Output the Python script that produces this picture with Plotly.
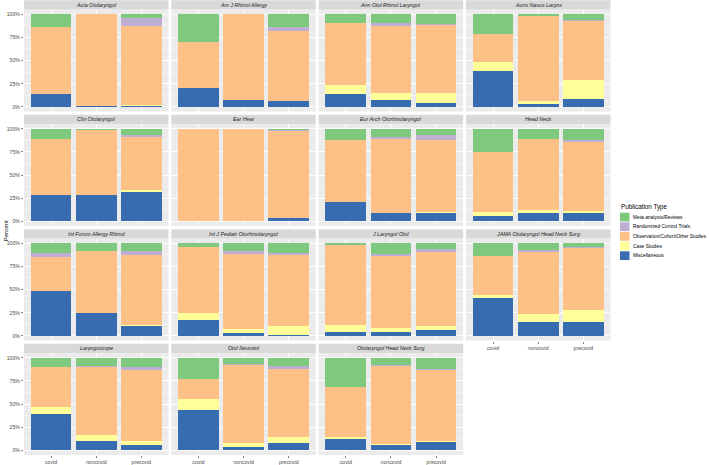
import plotly.graph_objects as go
import numpy as np

journals = ["Acta Otolaryngol", "Am J Rhinol Allergy", "Ann Otol Rhinol Laryngol", "Auris Nasus Larynx",
            "Clin Otolaryngol", "Ear Hear", "Eur Arch Otorhinolaryngol", "Head Neck",
            "Int Forum Allergy Rhinol", "Int J Pediatr Otorhinolaryngol", "J Laryngol Otol",
            "JAMA Otolaryngol Head Neck Surg", "Laryngoscope", "Otol Neurotol", "Otolaryngol Head Neck Surg"]
periods = ["covid", "noncovid", "precovid"]

# percent per journal: [covid, noncovid, precovid]
miscellaneous = [[14.3, 1.0, 1.0], [20.0, 7.2, 6.5], [14.3, 7.9, 4.3], [39.1, 3.6, 9.0],
                 [29.0, 29.0, 31.9], [0.0, 0.0, 3.2], [20.4, 9.0, 8.6], [6.1, 9.3, 8.6],
                 [48.7, 24.4, 10.4], [17.6, 2.9, 1.4], [4.3, 4.3, 6.1], [40.5, 14.7, 15.4],
                 [39.1, 10.0, 5.4], [44.1, 3.9, 7.9], [12.2, 5.4, 8.6]]
case_studies = [[0.0, 0.0, 1.0], [0.0, 0.0, 0.0], [9.4, 7.5, 10.4], [8.9, 2.5, 20.0],
                [0.0, 0.0, 2.1], [0.0, 0.0, 0.0], [0.0, 0.0, 1.4], [3.6, 3.2, 2.9],
                [0.0, 0.0, 1.1], [7.5, 5.0, 9.7], [7.9, 4.7, 4.7], [3.6, 8.6, 12.2],
                [8.2, 6.1, 4.3], [11.1, 4.0, 6.4], [2.1, 1.4, 1.8]]
observational = [[71.4, 99.0, 85.8], [50.3, 92.8, 75.2], [67.0, 72.4, 73.5], [30.5, 92.5, 64.2],
                 [59.5, 69.6, 57.0], [100.0, 100.0, 93.9], [67.8, 79.5, 77.8], [65.3, 76.5, 74.5],
                 [36.6, 67.0, 76.3], [71.3, 80.6, 76.7], [86.4, 77.7, 79.9], [42.3, 67.7, 67.0],
                 [43.0, 73.5, 76.7], [22.2, 84.6, 73.2], [54.5, 84.2, 76.7]]
rct = [[0.0, 0.0, 8.6], [0.0, 0.0, 4.0], [0.0, 2.9, 1.4], [0.0, 0.0, 0.7],
       [0.0, 0.0, 1.8], [0.0, 0.0, 1.5], [0.0, 2.9, 5.0], [0.0, 0.0, 1.5],
       [4.3, 0.0, 4.0], [0.0, 3.3, 1.4], [0.0, 1.5, 3.6], [0.0, 1.5, 1.1],
       [0.0, 1.4, 3.2], [0.0, 1.0, 3.5], [0.0, 0.8, 1.1]]
meta_reviews = [[14.3, 0.0, 3.6], [29.7, 0.0, 14.3], [9.3, 9.3, 10.4], [21.5, 1.4, 6.1],
                [11.5, 1.4, 7.2], [0.0, 0.0, 1.4], [11.8, 8.6, 7.2], [25.0, 11.0, 12.5],
                [10.4, 8.6, 8.2], [3.6, 8.2, 10.8], [1.4, 11.8, 5.7], [13.6, 7.5, 4.3],
                [9.7, 9.0, 10.4], [22.6, 6.5, 9.0], [31.2, 8.2, 11.8]]

type_names = ["Meta-analysis/Reviews", "Randomized Control Trials", "Observation/Cohort/Other Studies",
              "Case Studies", "Miscellaneous"]
type_colors = ["#7FC97F", "#BEAED4", "#FDC086", "#FFFF99", "#386CB0"]
type_values = [meta_reviews, rct, observational, case_studies, miscellaneous]
y_ticks = [0, 0.25, 0.5, 0.75, 1.0]
y_ticklabels = ["0%", "25%", "50%", "75%", "100%"]

W, H = 709, 465
FONT = "Liberation Sans, Arial, sans-serif"

totals = np.sum([np.array(v) for v in type_values], axis=0)

fig = go.Figure()
layout = {}
shapes = []
annotations = []

col_x0 = 24.0
col_pitch = 147.33
panel_w = 144.5
for i, j in enumerate(journals):
    r, c = divmod(i, 4)
    ax = "" if i == 0 else str(i + 1)
    x0 = col_x0 + c * col_pitch
    x1 = x0 + panel_w
    top = 9.65 + 115 * r
    bot = 112.0 + 115 * r
    # bottom-up stacking: Misc, Case, Obs, RCT, Meta
    for k in [4, 3, 2, 1, 0]:
        vals = np.array(type_values[k][i]) / totals[i]
        fig.add_trace(go.Bar(x=periods, y=vals, name=type_names[k], marker_color=type_colors[k],
                             marker_line_width=0, width=0.9, showlegend=False,
                             xaxis="x" + ax, yaxis="y" + ax, hoverinfo="skip"))
    show_x = (r == 3) or (i == 11)
    layout["xaxis" + ax] = dict(domain=[x0 / W, x1 / W], anchor="y" + ax, type="category",
                                categoryorder="array", categoryarray=periods, range=[-0.6, 2.6],
                                showgrid=True, gridcolor="white", gridwidth=0.9,
                                showticklabels=show_x, ticks="outside" if show_x else "",
                                ticklen=2, tickwidth=0.6, tickcolor="#333333",
                                tickfont=dict(family=FONT, size=5.2, color="#4D4D4D"),
                                showline=False, zeroline=False, fixedrange=True)
    show_y = (c == 0)
    layout["yaxis" + ax] = dict(domain=[1 - bot / H, 1 - top / H], anchor="x" + ax, range=[-0.05, 1.05],
                                tickvals=y_ticks, ticktext=y_ticklabels, showticklabels=show_y,
                                ticks="outside" if show_y else "", ticklen=2, tickwidth=0.6,
                                tickcolor="#333333",
                                tickfont=dict(family=FONT, size=5.2, color="#4D4D4D"),
                                showgrid=True, gridcolor="white", gridwidth=0.9,
                                minor=dict(tickvals=[0.125, 0.375, 0.625, 0.875], showgrid=True,
                                           gridcolor="white", gridwidth=0.4),
                                zeroline=False, showline=False, fixedrange=True)
    # strip
    shapes.append(dict(type="rect", xref="paper", yref="paper", x0=x0 / W, x1=x1 / W,
                       y0=1 - top / H, y1=1 - (115 * r + 0.3) / H, fillcolor="#D9D9D9",
                       line_width=0, layer="below"))
    annotations.append(dict(xref="paper", yref="paper", x=(x0 + x1) / 2 / W, y=1 - (115 * r + 5.0) / H,
                            text="<i>" + j + "</i>", showarrow=False, xanchor="center", yanchor="middle",
                            font=dict(family=FONT, size=5.3, color="#1A1A1A")))

# y-axis title
annotations.append(dict(xref="paper", yref="paper", x=5.5 / W, y=1 - 232 / H, text="Percent", textangle=-90,
                        showarrow=False, xanchor="center", yanchor="middle",
                        font=dict(family=FONT, size=6.2, color="#000000")))

# legend (drawn manually to match ggplot spacing)
annotations.append(dict(xref="paper", yref="paper", x=619 / W, y=1 - 207.5 / H, text="Publication Type",
                        showarrow=False, xanchor="left", yanchor="middle",
                        font=dict(family=FONT, size=6.3, color="#000000")))
for k, (nm, colr) in enumerate(zip(type_names, type_colors)):
    cy = 218.0 + k * 9.7
    shapes.append(dict(type="rect", xref="paper", yref="paper", x0=620 / W, x1=629.5 / W,
                       y0=1 - (cy + 4.4) / H, y1=1 - (cy - 4.4) / H, fillcolor=colr, line_width=0))
    annotations.append(dict(xref="paper", yref="paper", x=631.5 / W, y=1 - cy / H, text=nm,
                            showarrow=False, xanchor="left", yanchor="middle", borderpad=0,
                            font=dict(family=FONT, size=4.85, color="#000000")))

fig.update_layout(**layout)
fig.update_layout(width=W, height=H, margin=dict(l=0, r=0, t=0, b=0), barmode="stack", bargap=0.1,
                  paper_bgcolor="white", plot_bgcolor="#EBEBEB", showlegend=False,
                  shapes=shapes, annotations=annotations, font=dict(family=FONT))
fig.write_html("out.html", config={"displayModeBar": False, "staticPlot": True},
               post_script="document.body.style.margin='0px';document.body.style.overflow='hidden';")
